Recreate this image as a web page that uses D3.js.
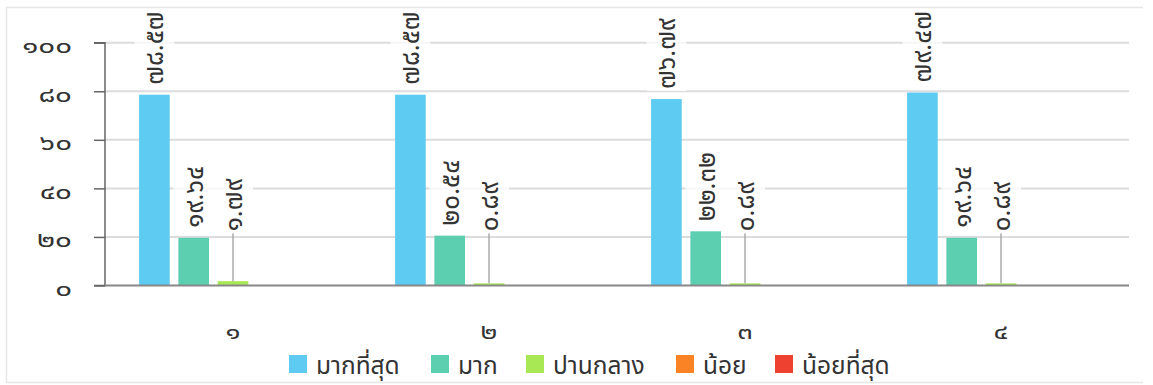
<!DOCTYPE html>
<html><head><meta charset="utf-8">
<script src="https://cdn.jsdelivr.net/npm/d3@7"></script>
<style>
html,body{margin:0;padding:0;background:#fff;}
svg{display:block;}
text{font-family:Tahoma,"Leelawadee UI","Noto Sans Thai","Noto Sans",sans-serif;fill:#333;}
</style></head><body>
<svg id="c" width="1153" height="385"></svg>
<script>
const categories = ["๑","๒","๓","๔"];
const seriesNames = ["มากที่สุด","มาก","ปานกลาง","น้อย","น้อยที่สุด"];
const seriesColors = ["#5ecbf3","#5bcfb0","#a8e855","#fa8326","#ef4130"];
const mostValues   = [78.57, 78.57, 76.79, 79.47];
const muchValues   = [19.64, 20.54, 22.32, 19.64];
const midValues    = [1.79, 0.89, 0.89, 0.89];
const lowValues    = [0, 0, 0, 0];
const lowestValues = [0, 0, 0, 0];
const yTicks = [0, 20, 40, 60, 80, 100];

const seriesValues = [mostValues, muchValues, midValues, lowValues, lowestValues];
const thaiDigits = "๐๑๒๓๔๕๖๗๘๙";
const toThai = s => String(s).replace(/[0-9]/g, d => thaiDigits[+d]);

const svg = d3.select("#c");
svg.append("path").attr("d","M1143,7.5 H6.5 V382.5 H1143")
  .attr("fill","none").attr("stroke","#e6e6e6").attr("stroke-width",1.5);

const L = 105, R = 1129, T = 42.7, B = 285.5;
const y = d3.scaleLinear().domain([0,100]).range([B,T]);
const x0 = d3.scaleBand().domain(categories).range([L,R]).padding(0);
const x1 = d3.scaleBand().domain(seriesNames).range([0, x0.bandwidth()])
  .paddingInner(0.22).paddingOuter(0.867);

// gridlines
svg.append("g").selectAll("line").data(yTicks.filter(t=>t>0)).join("line")
  .attr("x1",L).attr("x2",R).attr("y1",d=>y(d)).attr("y2",d=>y(d))
  .attr("stroke","#dcdcdc").attr("stroke-width",2);

// y axis
const yAxis = d3.axisLeft(y).tickValues(yTicks).tickSize(11).tickPadding(22)
  .tickFormat(d=>toThai(d));
const gy = svg.append("g").attr("transform",`translate(${L},0)`).call(yAxis);
gy.select(".domain").attr("stroke","#666").attr("stroke-width",1.5).attr("d",`M-11,${T}H0V${B}H-11`);
gy.selectAll(".tick line").attr("stroke","#666").attr("stroke-width",1.5);
gy.selectAll(".tick text")
  .attr("x",0).attr("dy",null).attr("y",10)
  .attr("transform","translate(-33,0) scale(1.41,1)")
  .attr("font-size",21).attr("fill","#333")
  .style("font-family",'Tahoma,"Leelawadee UI","Noto Sans Thai","Noto Sans",sans-serif');

// bars
const flat = [];
categories.forEach((c,ci)=>seriesNames.forEach((s,si)=>flat.push({c,s,si,v:seriesValues[si][ci]})));
svg.append("g").selectAll("rect").data(flat.filter(d=>d.v>0)).join("rect")
  .attr("x",d=>x0(d.c)+x1(d.s)).attr("width",x1.bandwidth())
  .attr("y",d=>y(d.v)).attr("height",d=>B-y(d.v))
  .attr("fill",d=>seriesColors[d.si]);

// x baseline
svg.append("line").attr("x1",L).attr("x2",R).attr("y1",B).attr("y2",B)
  .attr("stroke","#888").attr("stroke-width",2);

// category labels
svg.append("g").selectAll("text").data(categories).join("text")
  .attr("transform",d=>`translate(${x0(d)+x0.bandwidth()/2},339) scale(1.25,1)`)
  .attr("text-anchor","middle").attr("font-size",22).text(d=>d);

// data labels
const labelMin = 21.5;
const labs = flat.filter(d=>d.v>0);
const lg = svg.append("g");
labs.forEach(d=>{
  const cx = x0(d.c)+x1(d.s)+x1.bandwidth()/2;
  const small = d.v < 5;
  const anchorY = small ? y(labelMin) : y(d.v);
  if (small) {
    lg.append("line").attr("x1",cx).attr("x2",cx).attr("y1",y(d.v)).attr("y2",anchorY)
      .attr("stroke","#aaa").attr("stroke-width",1.5);
  }
  const startY = anchorY - (small ? 2 : 10);
  const g = lg.append("g").attr("transform",`translate(${cx},${startY}) rotate(-90)`);
  const bg = g.append("rect").attr("fill","#fff").attr("opacity",0.75);
  const t = g.append("text").attr("x",0).attr("y",9).attr("font-size",26)
    .attr("fill","#222").text(toThai(d.v.toFixed(2)));
  const w = t.node().getComputedTextLength();
  bg.attr("x",-2).attr("y",-20).attr("width",w+4).attr("height",40);
});

// legend
const legendX = [289, 431, 526, 676, 775];
const lgd = svg.append("g").selectAll("g").data(seriesNames).join("g")
  .attr("transform",(d,i)=>`translate(${legendX[i]},355)`);
lgd.append("rect").attr("width",18).attr("height",18).attr("fill",(d,i)=>seriesColors[i]);
lgd.append("text").attr("x",27).attr("y",19).attr("font-size",24.5).attr("fill","#333").text(d=>d);
</script>
</body></html>
